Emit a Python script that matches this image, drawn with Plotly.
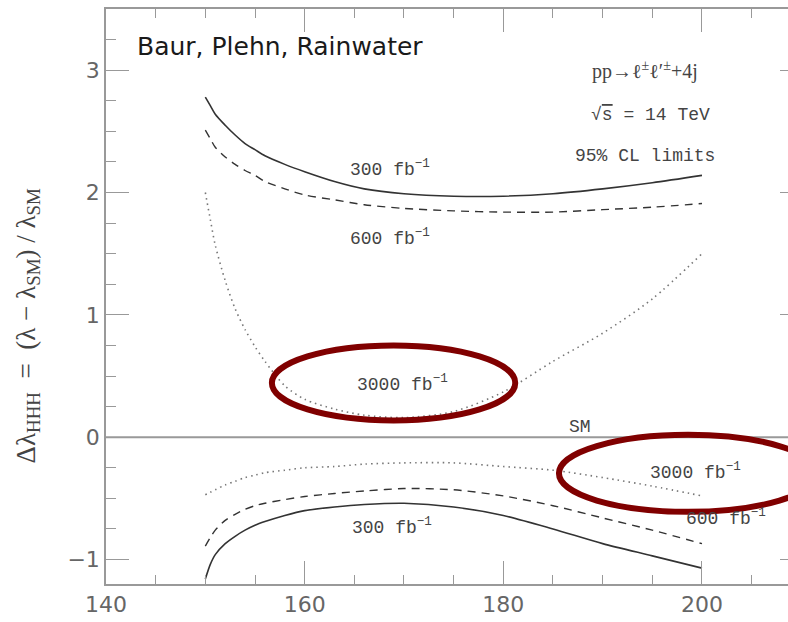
import plotly.graph_objects as go

# Higgs mass grid [GeV]
mass = [150, 150.5, 151, 152, 153, 154, 155, 156, 158, 160, 163, 166, 170, 175, 180, 185, 190, 195, 200]

# upper 95% CL limits
up_300 = [2.78, 2.71, 2.64, 2.55, 2.47, 2.40, 2.35, 2.30, 2.23, 2.17, 2.09, 2.03, 1.99, 1.97, 1.97, 1.99, 2.03, 2.08, 2.14]
up_600 = [2.51, 2.44, 2.37, 2.29, 2.23, 2.18, 2.14, 2.09, 2.03, 1.98, 1.94, 1.90, 1.87, 1.85, 1.84, 1.84, 1.86, 1.88, 1.91]
up_3000 = [2.00, 1.78, 1.57, 1.28, 1.05, 0.88, 0.74, 0.62, 0.42, 0.31, 0.23, 0.18, 0.16, 0.21, 0.37, 0.62, 0.85, 1.13, 1.50]

# lower 95% CL limits
lo_300 = [-1.16, -1.04, -0.96, -0.87, -0.81, -0.76, -0.72, -0.69, -0.64, -0.60, -0.57, -0.55, -0.54, -0.57, -0.64, -0.75, -0.87, -0.97, -1.07]
lo_600 = [-0.89, -0.82, -0.76, -0.68, -0.63, -0.59, -0.56, -0.54, -0.51, -0.485, -0.46, -0.44, -0.42, -0.43, -0.48, -0.56, -0.66, -0.76, -0.87]
lo_3000 = [-0.47, -0.45, -0.43, -0.39, -0.36, -0.33, -0.31, -0.29, -0.27, -0.25, -0.24, -0.22, -0.21, -0.21, -0.24, -0.27, -0.33, -0.40, -0.48]

x_range = [140, 208.66]
y_range = [-1.2, 3.5]

LINE = "#333333"
DOT = "#777777"
TXT = "#444444"
AX = "#999999"
RED = "#800000"

fig = go.Figure()

# SM line
fig.add_trace(go.Scatter(x=x_range, y=[0, 0], mode="lines",
                         line=dict(color="#999999", width=2), hoverinfo="skip"))

styles = [
    (up_300, LINE, "solid", 1.6),
    (up_600, LINE, "8px,6px", 1.4),
    (up_3000, DOT, "1.5px,4px", 1.6),
    (lo_300, LINE, "solid", 1.6),
    (lo_600, LINE, "8px,6px", 1.4),
    (lo_3000, DOT, "1.5px,4px", 1.6),
]
for ys, col, dash, w in styles:
    fig.add_trace(go.Scatter(x=mass, y=ys, mode="lines", line_shape="spline",
                             line=dict(color=col, dash=dash, width=w, smoothing=0.8),
                             hoverinfo="skip"))

# ellipses highlighting 3000 fb^-1
fig.add_shape(type="circle", xref="x", yref="y", x0=156.7, x1=181.2, y0=0.137, y1=0.75,
              line=dict(color=RED, width=6))
fig.add_shape(type="circle", xref="x", yref="y", x0=185.6, x1=211.6, y0=-0.61, y1=0.02,
              line=dict(color=RED, width=6))

LBL = dict(family="Liberation Mono, DejaVu Sans Mono, monospace", size=18, color=TXT)
labels = [
    ("300 fb<sup>−1</sup>", 168.6, 2.2),
    ("600 fb<sup>−1</sup>", 168.6, 1.63),
    ("3000 fb<sup>−1</sup>", 169.8, 0.44),
    ("SM", 187.7, 0.08),
    ("3000 fb<sup>−1</sup>", 199.3, -0.28),
    ("600 fb<sup>−1</sup>", 202.4, -0.66),
    ("300 fb<sup>−1</sup>", 168.8, -0.73),
]
for t, x, y in labels:
    fig.add_annotation(x=x, y=y, text=t, showarrow=False, font=LBL, xanchor="center", yanchor="middle")

fig.add_annotation(x=142.9, y=3.19, text="Baur, Plehn, Rainwater", showarrow=False,
                   xanchor="left", yanchor="middle",
                   font=dict(family="DejaVu Sans", size=25, color="#1a1a1a"))
fig.add_annotation(x=194.3, y=3.0, text="pp→ℓ<sup>±</sup>ℓ′<sup>±</sup>+4j", showarrow=False,
                   font=dict(family="Liberation Serif", size=20, color=TXT))
fig.add_annotation(x=194.8, y=2.63, text="√<span style='text-decoration:overline'>s</span> = 14 TeV",
                   showarrow=False, font=dict(family="Liberation Mono", size=18, color=TXT))
fig.add_annotation(x=194.3, y=2.3, text="95% CL limits", showarrow=False,
                   font=dict(family="Liberation Mono", size=18, color=TXT))

# y-axis title
fig.add_annotation(xref="paper", yref="paper", x=-0.115, y=0.449, textangle=-90,
                   xanchor="center", yanchor="middle",
                   text="Δλ<sub>HHH</sub>  =  (λ − λ<sub>SM</sub>) / λ<sub>SM</sub>",
                   showarrow=False, font=dict(family="Liberation Serif", size=27, color=TXT))

tickfont = dict(family="DejaVu Sans", size=22, color="#666666")
fig.update_layout(
    width=788, height=622,
    margin=dict(l=106, r=0, t=9, b=38),
    paper_bgcolor="white", plot_bgcolor="white",
    showlegend=False,
    xaxis=dict(range=x_range, tickmode="array", tickvals=[140, 160, 180, 200, 220],
               ticks="inside", ticklen=23, tickwidth=1.3, tickcolor=AX,
               minor=dict(tickmode="array", tickvals=[145, 150, 155, 165, 170, 175, 185, 190, 195, 205],
                          ticks="inside", ticklen=9, tickcolor=AX, tickwidth=1.3),
               showline=True, linecolor=AX, linewidth=1.5, mirror="ticks",
               showgrid=False, zeroline=False, tickfont=tickfont),
    yaxis=dict(range=y_range, tickmode="array", tickvals=[-1, 0, 1, 2, 3],
               ticktext=["−1", "0", "1", "2", "3"],
               ticks="inside", ticklen=23, tickwidth=1.3, tickcolor=AX,
               minor=dict(tickmode="array",
                          tickvals=[-0.75, -0.5, -0.25, 0.25, 0.5, 0.75, 1.25, 1.5, 1.75,
                                    2.25, 2.5, 2.75, 3.25],
                          ticks="inside", ticklen=10, tickcolor=AX, tickwidth=1.3),
               showline=True, linecolor=AX, linewidth=1.5, mirror=False,
               showgrid=False, zeroline=False, tickfont=tickfont),
    yaxis2=dict(range=y_range, overlaying="y", side="right", tickmode="array",
                tickvals=[-1, 0, 1, 2, 3], showticklabels=False,
                ticks="inside", ticklen=8, tickwidth=1.3, tickcolor=AX,
                showline=False, showgrid=False, zeroline=False),
)
fig.add_trace(go.Scatter(x=[None], y=[None], yaxis="y2", showlegend=False))

fig.write_html("out.html")
